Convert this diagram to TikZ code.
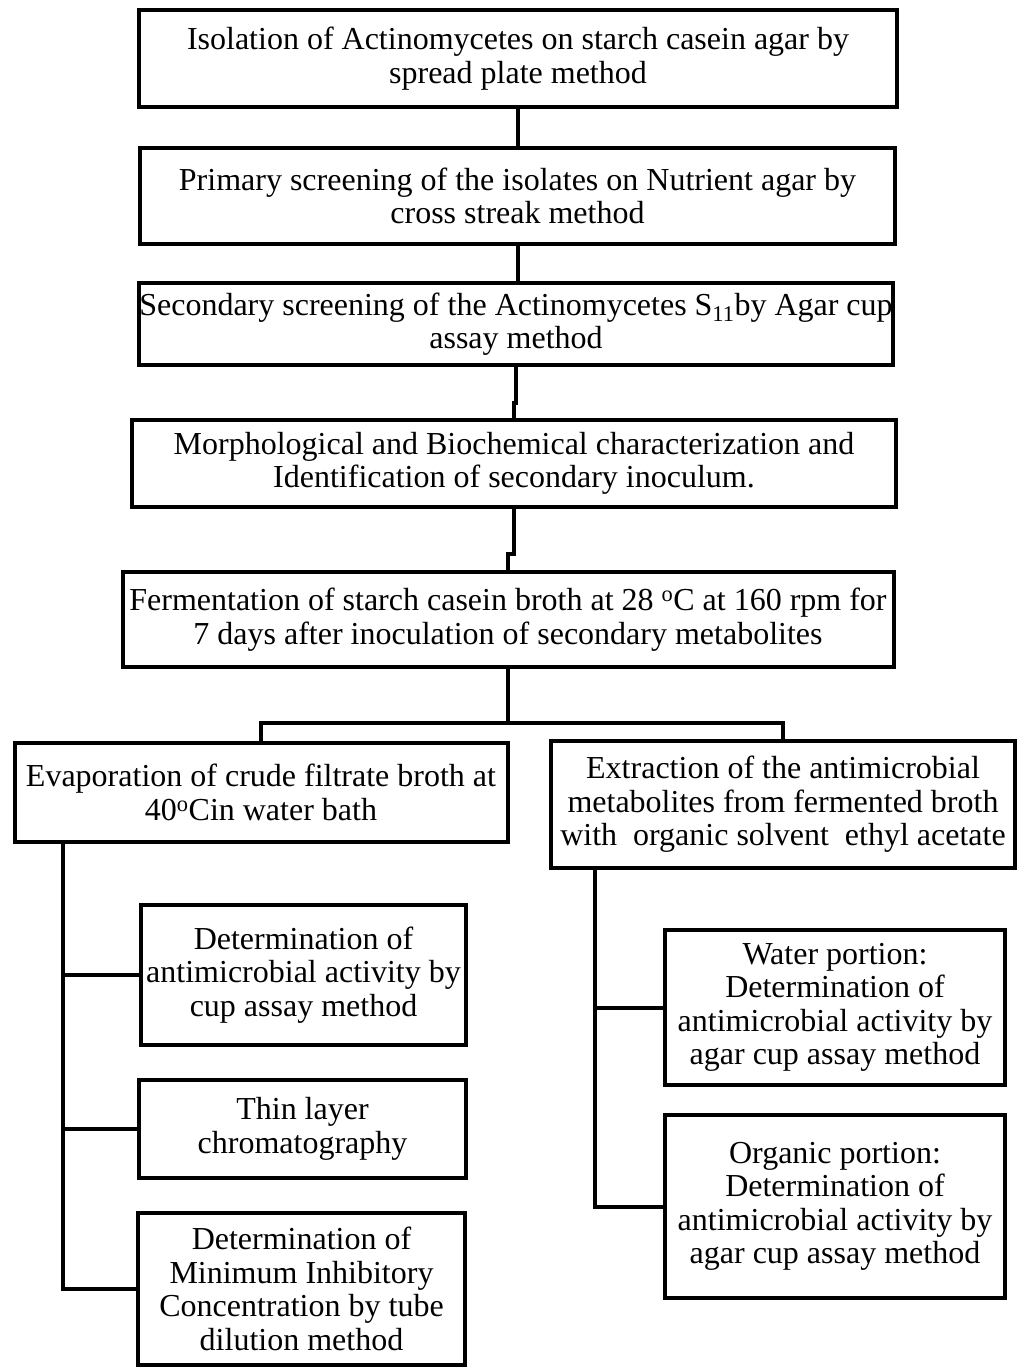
\documentclass[tikz,border=0pt]{standalone}
\usepackage{fontspec}
\setmainfont{Liberation Serif}
\usepackage{tikz}

\begin{document}
\begin{tikzpicture}[x=1pt, y=-1pt,
    stage/.style = {draw, line width=4pt, align=center, inner sep=2pt,
                    font=\fontsize{32}{33.5}\selectfont},
    link/.style = {line width=4pt}]
            \useasboundingbox (0,0) rectangle (1017,1367);

            \node[stage, minimum width=758, minimum height=97] (isol) at (518,58.5)
                {Isolation of Actinomycetes on starch casein agar by\\ spread plate method};
            \node[stage, minimum width=755, minimum height=95] (prim) at (517.5,196)
                {Primary screening of the isolates on Nutrient agar by\\ cross streak method};
            \node[stage, inner xsep=0pt, minimum width=753, minimum height=82] (sec) at (516,324)
                {Secondary screening of the Actinomycetes S\textsubscript{11}by Agar cup\\ assay method};
            \node[stage, minimum width=764, minimum height=87] (morph) at (514,463.5)
                {Morphological and Biochemical characterization and\\ Identification of secondary inoculum.};
            \node[stage, minimum width=771, minimum height=95] (ferm) at (508,619.5)
                {Fermentation of starch casein broth at 28 \textsuperscript{o}C at 160 rpm for\\ 7 days after inoculation of secondary metabolites};

            \path[link] (isol.south) edge (isol.south |- prim.north);
            \path[link] (prim.south) edge (prim.south |- sec.north);
            \draw[link] (sec.south) -- ++(0,36) -| (morph.north);
            \draw[link] (morph.south) -- ++(0,45) -| (ferm.north);

            \node[stage, minimum width=493, minimum height=99] (evap) at (261,792.5)
                {Evaporation of crude filtrate broth at\\ 40\textsuperscript{o}Cin water bath};
            \node[stage, minimum width=464, minimum height=127] (extr) at (783,804.5)
                {Extraction of the antimicrobial\\ metabolites from fermented broth\\ with\ \ organic solvent\ \ ethyl acetate};

            \coordinate (split) at ([yshift=-54pt]ferm.south);
            \draw[link] (ferm.south) -- (split);
            \draw[link] (evap.north) |- (split) -| (extr.north);

            % left branch
            \node[stage, minimum width=325, minimum height=140] (cup) at (303.5,975)
                {Determination of\\ antimicrobial activity by\\ cup assay method};
            \node[stage, minimum width=327, minimum height=98] (tlc) at (302.5,1129)
                {Thin layer\\ chromatography};
            \node[stage, minimum width=327, minimum height=152] (mic) at (301.5,1289)
                {Determination of\\ Minimum Inhibitory\\ Concentration by tube\\ dilution method};

            \coordinate (ltrunk) at ([xshift=50pt]evap.south west);
            \draw[link] (ltrunk) |- (mic.west);
            \draw[link] (cup.west) -- (cup.west -| ltrunk);
            \draw[link] (tlc.west) -- (tlc.west -| ltrunk);

            % right branch
            \node[stage, minimum width=340, minimum height=155] (water) at (835,1007.5)
                {Water portion:\\ Determination of\\ antimicrobial activity by\\ agar cup assay method};
            \node[stage, minimum width=340, minimum height=183] (org) at (835,1206.5)
                {Organic portion:\\ Determination of\\ antimicrobial activity by\\ agar cup assay method};

            \coordinate (rtrunk) at ([xshift=46pt]extr.south west);
            \draw[link] (rtrunk) |- (org.west);
            \draw[link] (water.west) -- (water.west -| rtrunk);
\end{tikzpicture}
\end{document}
